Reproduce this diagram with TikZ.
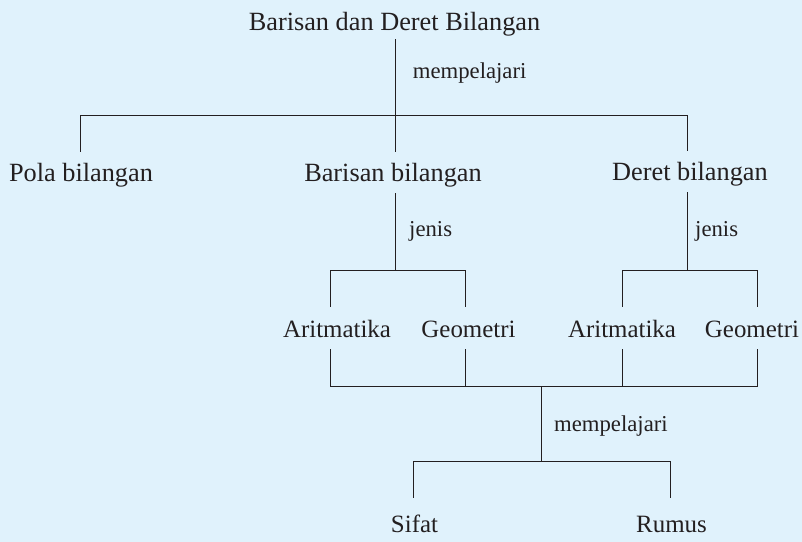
\documentclass[tikz,border=0pt]{standalone}
\usepackage{fontspec}
\setmainfont{Liberation Serif}
\usetikzlibrary{calc}
\definecolor{bg}{HTML}{E0F2FC}
\definecolor{ink}{HTML}{231F20}
\tikzset{
  big/.style={anchor=base, inner sep=0pt, text height=18bp, text depth=6bp, text=ink, font=\fontsize{26.4}{30}\selectfont},
  mid/.style={anchor=base, inner sep=0pt, text height=18bp, text depth=6bp, text=ink, font=\fontsize{25}{29}\selectfont},
  lbl/.style={anchor=base west, inner sep=0pt, text=ink, font=\fontsize{22.8}{26}\selectfont},
  ln/.style={draw=ink, line width=1.1bp}
}
\begin{document}
\begin{tikzpicture}[x=1bp,y=-1bp]
\useasboundingbox[fill=bg] (0,0) rectangle (802,542);
% nodes
\node[big] (root) at (394.5,31) {Barisan dan Deret Bilangan};
\node[big] (pola) at (81,182) {Pola bilangan};
\node[big] (barisan) at (393,182) {Barisan bilangan};
\node[big] (deret) at (690,181) {Deret bilangan};
\node[mid] (ar1) at (337,337) {Aritmatika};
\node[mid] (ge1) at (468.5,337) {Geometri};
\node[mid] (ar2) at (622,337) {Aritmatika};
\node[mid] (ge2) at (752,337) {Geometri};
\node[mid] (sifat) at (414.5,532) {Sifat};
\node[mid] (rumus) at (671.5,532) {Rumus};
% labels
\node[lbl] (l1) at (412.7,78.3) {mempelajari};
\node[lbl] (l2) at (409,236.7) {jenis};
\node[lbl] (l3) at (695,236.7) {jenis};
\node[lbl] (l4) at (554,431) {mempelajari};
% junctions
\coordinate (t1) at (395.5,115.5);
\coordinate (h1L) at (80.5,115.5);
\coordinate (h1R) at (687.5,115.5);
\coordinate (t2) at (395.5,270.5);
\coordinate (t2L) at (330.5,270.5);
\coordinate (t2R) at (465.5,270.5);
\coordinate (t3) at (687.5,270.5);
\coordinate (t3L) at (622.5,270.5);
\coordinate (t3R) at (757.5,270.5);
\coordinate (b1) at (330.5,386.5);
\coordinate (b2) at (757.5,386.5);
\coordinate (c1) at (541.5,386.5);
\coordinate (c2) at (541.5,461.5);
\coordinate (c2L) at (413.5,461.5);
\coordinate (c2R) at (670.5,461.5);
% level 1
\draw[ln, shorten <=2bp, shorten >=12bp] (root.south -| t1) -- (t1 |- barisan.north);
\draw[ln, shorten <=12bp, shorten >=12bp] (h1L |- pola.north) -- (h1L) -- (h1R) -- (h1R |- deret.north);
% level 2
\draw[ln, shorten <=5bp] (barisan.south -| t2) -- (t2);
\draw[ln, shorten <=12bp, shorten >=12bp] (t2L |- ar1.north) -- (t2L) -- (t2R) -- (t2R |- ge1.north);
\draw[ln, shorten <=5bp] (deret.south -| t3) -- (t3);
\draw[ln, shorten <=12bp, shorten >=12bp] (t3L |- ar2.north) -- (t3L) -- (t3R) -- (t3R |- ge2.north);
% level 3
\draw[ln, shorten <=6bp, shorten >=6bp] (ar1.south -| b1) -- (b1) -- (b2) -- (b2 |- ge2.south);
\draw[ln, shorten <=6bp] (ge1.south -| t2R) -- (t2R |- b1);
\draw[ln, shorten <=6bp] (ar2.south -| t3L) -- (t3L |- b1);
% level 4
\draw[ln] (c1) -- (c2);
\draw[ln, shorten <=16bp, shorten >=16bp] (c2L |- sifat.north) -- (c2L) -- (c2R) -- (c2R |- rumus.north);
\end{tikzpicture}
\end{document}
